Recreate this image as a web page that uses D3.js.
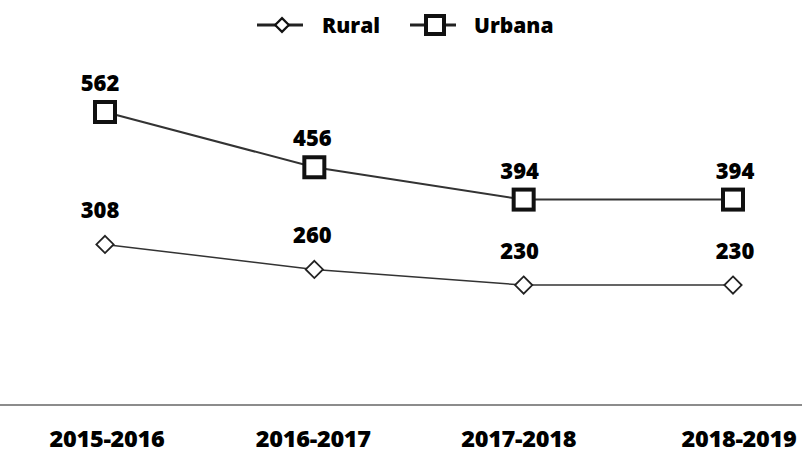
<!DOCTYPE html>
<html>
<head>
<meta charset="utf-8">
<script src="https://cdn.jsdelivr.net/npm/d3@7"></script>
<style>
  body { margin: 0; background: #fff; }
  text { font-family: "Open Sans", "Noto Sans", sans-serif; font-weight: 800; fill: #000; }
</style>
</head>
<body>
<svg id="board" width="802" height="457"></svg>
<script>
let years = ['2015-2016', '2016-2017', '2017-2018', '2018-2019']
let rural = [308, 260, 230, 230]
let urbana = [562, 456, 394, 394]

let board = d3.select('#board')

let x = d3.scalePoint()
    .domain(years)
    .range([105, 733])

let y = d3.scaleLinear()
    .domain([0, 562])
    .range([405, 112])

// baseline
board.append('line')
    .attr('x1', 0).attr('x2', 802)
    .attr('y1', y(0)).attr('y2', y(0))
    .attr('stroke', '#666')
    .attr('stroke-width', 1.3)

// year labels
board.selectAll('.year')
    .data(years)
    .enter()
    .append('text')
    .attr('class', 'year')
    .attr('x', (d, i) => x(d) + [2, -1, -5, 6][i])
    .attr('y', 447)
    .attr('text-anchor', 'middle')
    .style('font-size', '23.5px')
    .style('letter-spacing', '-0.3px')
    .text(d => d)

let line = d3.line()
    .x((d, i) => x(years[i]))
    .y(d => y(d))

let drawSeries = function(values, marker) {
    board.append('path')
        .datum(values)
        .attr('d', line)
        .attr('fill', 'none')
        .attr('stroke', '#333')
        .attr('stroke-width', marker == 'square' ? 2 : 1.5)

    let g = board.append('g')
    values.forEach((v, i) => {
        let cx = x(years[i]), cy = y(v)
        if (marker == 'square') {
            g.append('rect')
                .attr('x', cx - 10).attr('y', cy - 10)
                .attr('width', 20).attr('height', 20)
                .attr('fill', '#fff')
                .attr('stroke', '#111')
                .attr('stroke-width', 4)
        } else {
            g.append('path')
                .attr('d', d3.symbol(d3.symbolDiamond2, 190)())
                .attr('transform', 'translate(' + cx + ',' + cy + ')')
                .attr('fill', '#fff')
                .attr('stroke', '#222')
                .attr('stroke-width', 1.8)
        }
        g.append('text')
            .attr('x', cx + [-5, -2, -4, 2][i])
            .attr('y', cy - (marker == 'square' ? 21 : 26))
            .attr('text-anchor', 'middle')
            .style('font-size', '22px')
            .text(v)
    })
}

drawSeries(urbana, 'square')
drawSeries(rural, 'diamond')

// legend
let legend = board.append('g')
let items = [['Rural', 'diamond', 257, 322], ['Urbana', 'square', 410, 474]]
items.forEach(it => {
    let lx = it[2]
    legend.append('line')
        .attr('x1', lx).attr('x2', lx + 46)
        .attr('y1', 25).attr('y2', 25)
        .attr('stroke', '#222')
        .attr('stroke-width', 3)
    if (it[1] == 'square') {
        legend.append('rect')
            .attr('x', lx + 16).attr('y', 16)
            .attr('width', 18).attr('height', 18)
            .attr('fill', '#fff')
            .attr('stroke', '#111')
            .attr('stroke-width', 4)
    } else {
        legend.append('path')
            .attr('d', d3.symbol(d3.symbolDiamond2, 120)())
            .attr('transform', 'translate(' + (lx + 25) + ',25)')
            .attr('fill', '#fff')
            .attr('stroke', '#111')
            .attr('stroke-width', 2.2)
    }
    legend.append('text')
        .attr('x', it[3])
        .attr('y', 33)
        .style('font-size', '21px')
        .text(it[0])
})
</script>
</body>
</html>
